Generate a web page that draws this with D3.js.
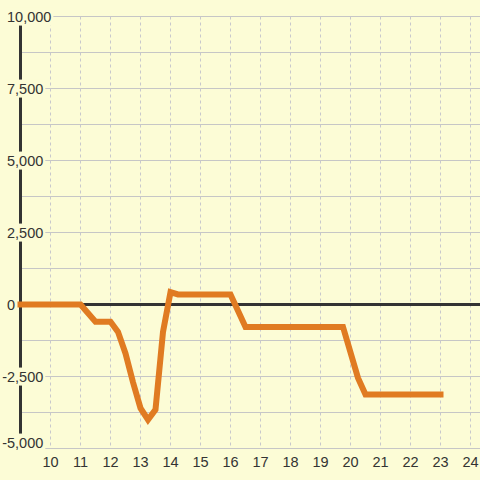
<!DOCTYPE html>
<html>
<head>
<meta charset="utf-8">
<script src="https://cdn.jsdelivr.net/npm/d3@7"></script>
<style>
  html, body { margin: 0; padding: 0; background: #fcfcd6; }
  svg { display: block; font-family: "Liberation Sans", Arial, sans-serif; }
</style>
</head>
<body>
<div id="chart"></div>
<script>
// values
const xVals = [9, 11, 11.5, 12, 12.25, 12.5, 12.75, 13, 13.25, 13.5, 13.75, 14, 14.25, 16, 16.5, 19.75, 20.25, 20.5, 23];
const yVals = [0, 0, -600, -600, -950, -1700, -2700, -3600, -4000, -3650, -950, 430, 350, 350, -780, -780, -2550, -3125, -3125];
const xTicks = [10, 11, 12, 13, 14, 15, 16, 17, 18, 19, 20, 21, 22, 23, 24];
const yTicks = [-5000, -2500, 0, 2500, 5000, 7500, 10000];
const yGrid = [-5000, -3750, -2500, -1250, 1250, 2500, 3750, 5000, 6250, 7500, 8750, 10000];

(function () {
  const W = 480, H = 480;
  const bg = "#fcfcd6";
  const ink = "#333";

  const svg = d3.select("#chart").append("svg").attr("width", W).attr("height", H);
  svg.append("rect").attr("width", W).attr("height", H).attr("fill", bg);

  const x = d3.scaleLinear().domain([9, 24]).range([20.5, 470.5]);
  const y = d3.scaleLinear().domain([-5000, 10000]).range([448.5, 16.5]);

  // horizontal grid
  svg.append("g").selectAll("line").data(yGrid).join("line")
    .attr("x1", x(9)).attr("x2", W)
    .attr("y1", d => y(d)).attr("y2", d => y(d))
    .attr("stroke", "#c6c6c6").attr("stroke-width", 1);

  // vertical dashed grid
  svg.append("g").selectAll("line").data(xTicks).join("line")
    .attr("x1", d => x(d)).attr("x2", d => x(d))
    .attr("y1", y(10000)).attr("y2", y(-5000))
    .attr("stroke", "#c8c8cc").attr("stroke-width", 1)
    .attr("stroke-dasharray", "3,3");

  // y axis + zero line
  svg.append("line")
    .attr("x1", x(9)).attr("x2", x(9)).attr("y1", y(10000)).attr("y2", y(-5000))
    .attr("stroke", ink).attr("stroke-width", 3);
  svg.append("line")
    .attr("x1", x(9)).attr("x2", W).attr("y1", y(0)).attr("y2", y(0))
    .attr("stroke", ink).attr("stroke-width", 3);

  // y labels with background boxes (lowest one nudged up clear of the x labels)
  const fmt = d3.format(",");
  const yl = svg.append("g");
  yTicks.forEach(v => {
    const g = yl.append("g");
    const t = g.append("text")
      .attr("x", v < 0 ? 7 - 4.8 : 7)
      .attr("y", y(v) - (v === -5000 ? 6 : 0))
      .attr("dy", "0.35em")
      .attr("font-size", "14.5px")
      .attr("fill", ink)
      .text(v < 0 ? "-" + fmt(-v) : fmt(v));
    const b = t.node().getBBox();
    g.insert("rect", "text")
      .attr("x", b.x - 2).attr("y", b.y - 1)
      .attr("width", b.width + 4).attr("height", b.height + 2)
      .attr("fill", bg);
  });

  // x labels
  svg.append("g").selectAll("text").data(xTicks).join("text")
    .attr("x", d => x(d))
    .attr("y", 462)
    .attr("dy", "0.35em")
    .attr("text-anchor", "middle")
    .attr("font-size", "14.5px")
    .attr("fill", ink)
    .text(d => d);

  // series
  const pts = xVals.map((d, i) => [d, yVals[i]]);
  svg.append("path")
    .datum(pts)
    .attr("fill", "none")
    .attr("stroke", "#e07b22")
    .attr("stroke-width", 6)
    .attr("stroke-linecap", "square")
    .attr("d", d3.line().x(d => x(d[0])).y(d => y(d[1])));
})();
</script>
</body>
</html>
